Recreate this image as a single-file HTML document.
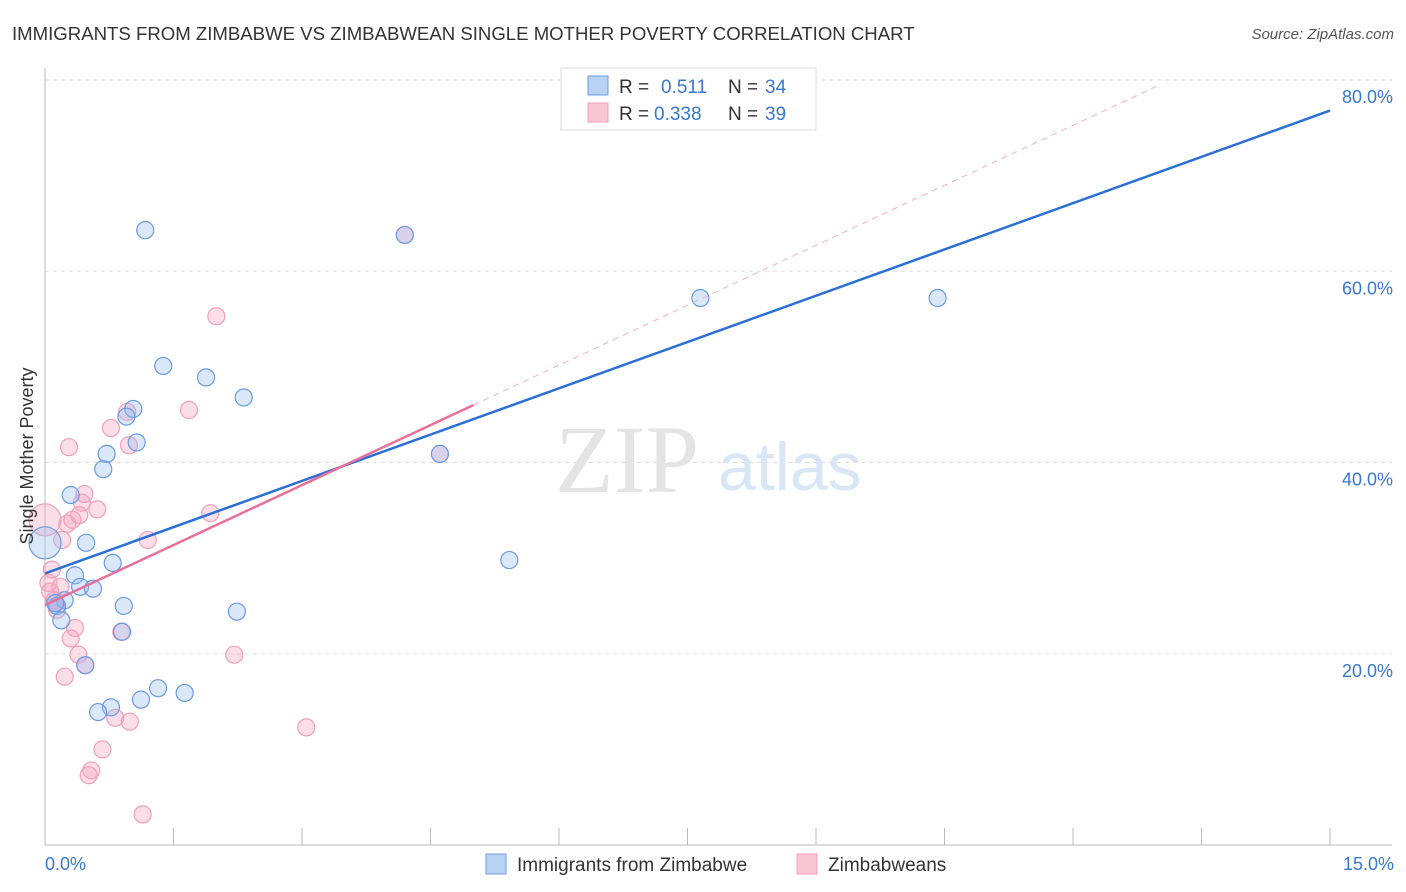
<!DOCTYPE html>
<html><head><meta charset="utf-8"><style>
body{margin:0;background:#fff;font-family:"Liberation Sans",sans-serif;}
svg{display:block}
</style></head><body>
<svg id="chart" width="1406" height="892" xmlns="http://www.w3.org/2000/svg">
<text x="12" y="40" font-size="18.6" fill="#333">IMMIGRANTS FROM ZIMBABWE VS ZIMBABWEAN SINGLE MOTHER POVERTY CORRELATION CHART</text>
<text x="1394" y="39" font-size="15" fill="#555" font-style="italic" text-anchor="end">Source: ZipAtlas.com</text>
<g id="grid"></g>
<line x1="45" y1="68" x2="45" y2="845" stroke="#bbb"/>
<line x1="45" y1="845" x2="1392" y2="845" stroke="#bbb"/>
<text x="555" y="492" font-size="96" fill="#e4e4e4" font-family="Liberation Serif,serif">ZIP</text>
<text x="718" y="490" font-size="68" fill="#d8e6f6">atlas</text>
<g id="ticks"></g>
<g id="points"></g>
<g id="lines"></g>
<text x="33" y="456" font-size="18" fill="#333" text-anchor="middle" transform="rotate(-90 33 456)">Single Mother Poverty</text>
<text x="45" y="870" font-size="18" fill="#3a78d0">0.0%</text>
<text x="1394" y="870" font-size="18" fill="#3a78d0" text-anchor="end">15.0%</text>
<g>
<rect x="561" y="68" width="255" height="62" fill="#fff" stroke="#ddd"/>
<rect x="588" y="76" width="20" height="19" fill="#b8d2f4" stroke="#6a9be0"/>
<text x="619" y="93" font-size="19" fill="#333">R = </text><text x="661" y="93" font-size="19" fill="#3a78d0">0.511</text>
<text x="728" y="93" font-size="19" fill="#333">N = </text><text x="765" y="93" font-size="19" fill="#3a78d0">34</text>
<rect x="588" y="103" width="20" height="19" fill="#f9c6d6" stroke="#f0a0b8"/>
<text x="619" y="120" font-size="19" fill="#333">R = </text><text x="654" y="120" font-size="19" fill="#3a78d0">0.338</text>
<text x="728" y="120" font-size="19" fill="#333">N = </text><text x="765" y="120" font-size="19" fill="#3a78d0">39</text>
</g>
<g>
<rect x="486" y="854" width="20" height="20" fill="#b8d2f4" stroke="#6a9be0"/>
<text x="517" y="871" font-size="19" fill="#333">Immigrants from Zimbabwe</text>
<rect x="797" y="854" width="20" height="20" fill="#f9c6d6" stroke="#f0a0b8"/>
<text x="828" y="871" font-size="19" fill="#333">Zimbabweans</text>
</g>
</svg>
<script>
const yTicks=[20,40,60,80];
const xTickVals=[0,1.5,3,4.5,6,7.5,9,10.5,12,13.5,15];
const blueX=[1.17,4.20,7.65,10.42,1.38,1.88,2.32,1.03,0.95,1.07,0.72,0.68,0.30,0.48,0.0,0.79,0.35,0.41,0.56,0.23,0.14,0.92,2.24,0.19,0.90,0.47,1.32,1.63,1.12,0.77,0.62,4.61,5.42,0.12];
const blueY=[64.3,63.8,57.2,57.2,50.1,48.9,46.8,45.6,44.8,42.1,40.9,39.3,36.6,31.6,31.6,29.5,28.2,27.0,26.8,25.6,25.0,25.0,24.4,23.5,22.3,18.8,16.4,15.9,15.2,14.4,13.9,40.9,29.8,25.3];
const pinkX=[4.20,2.00,1.68,0.96,0.77,0.28,0.98,0.46,0.43,0.61,0.40,0.32,0.26,0.0,0.20,1.20,1.93,0.08,0.04,0.18,0.06,0.11,0.14,0.35,0.30,0.39,2.21,0.89,0.47,0.23,0.82,0.99,3.05,0.67,0.54,0.51,1.14,4.61,0.12];
const pinkY=[63.8,55.3,45.5,45.3,43.6,41.6,41.8,36.7,35.8,35.1,34.5,34.0,33.6,34.0,31.9,31.9,34.7,28.8,27.4,27.0,26.5,25.6,24.6,22.7,21.6,19.9,19.9,22.3,18.8,17.6,13.3,12.9,12.3,10.0,7.8,7.3,3.2,40.9,25.3];
const blueLine=[28.4,76.8];
const pinkLine=[25.1,46.0];
const pinkDashEnd=13.0;
const sx=v=>45+v*(1285/15);
const sy=v=>845-v*(765/80);
const NS="http://www.w3.org/2000/svg";
function mk(t,a,p){const e=document.createElementNS(NS,t);for(const k in a)e.setAttribute(k,a[k]);p.appendChild(e);return e;}
const grid=document.getElementById('grid'),ticks=document.getElementById('ticks'),pts=document.getElementById('points'),lines=document.getElementById('lines');
yTicks.forEach(v=>{
 const l=mk('line',{x1:45,x2:1392,y1:sy(v),y2:sy(v),stroke:'#ddd','stroke-dasharray':'4,4'},grid);
 
 
 const t=mk('text',{x:1393,y:sy(v)+23,'font-size':18,fill:'#3a78d0','text-anchor':'end'},ticks);
 t.textContent=v.toFixed(1)+'%';
 
 
});
xTickVals.forEach(v=>{
 const l=mk('line',{x1:sx(v),x2:sx(v),y1:828,y2:845,stroke:'#bbb'},ticks);
 
 
});
function dots(X,Y,fill,stroke,name){X.forEach((x,i)=>{
 const big=(x===0);
 const c=mk('circle',{cx:sx(x),cy:sy(Y[i]),r:big?16:8.5,fill:fill,stroke:stroke,'stroke-width':1.2},pts);
 
 
});}
dots(pinkX,pinkY,'rgba(245,160,190,0.35)','#f0a0b8','pink-point');
dots(blueX,blueY,'rgba(150,190,240,0.35)','#6a9be0','blue-point');
let l1=mk('line',{x1:sx(0),y1:sy(blueLine[0]),x2:sx(15),y2:sy(blueLine[1]),stroke:'#2a6fd6','stroke-width':2.5},lines);


const ps=(pinkLine[1]-pinkLine[0])/5;
let l2=mk('line',{x1:sx(0),y1:sy(pinkLine[0]),x2:sx(5),y2:sy(pinkLine[1]),stroke:'#e8709a','stroke-width':2.5},lines);


let l3=mk('line',{x1:sx(5),y1:sy(pinkLine[1]),x2:sx(pinkDashEnd),y2:sy(pinkLine[0]+ps*pinkDashEnd),stroke:'#f0b0c4','stroke-width':1,'stroke-dasharray':'6,5'},lines);


</script>
</body></html>
